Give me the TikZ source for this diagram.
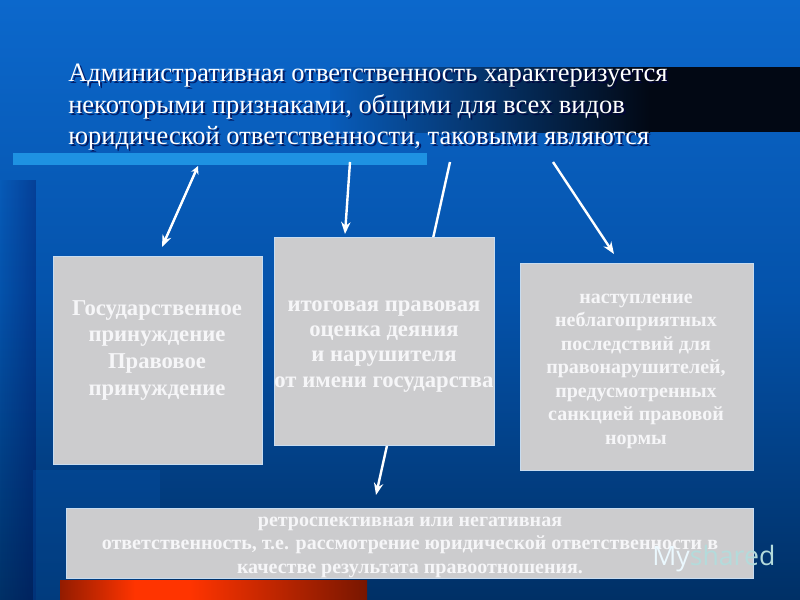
\documentclass[tikz,border=0pt]{standalone}
\usepackage{fontspec}
\setmainfont{Liberation Serif}
\newfontfamily\wmfont{Open Sans}
\usetikzlibrary{arrows.meta,fadings}
\definecolor{bgtop}{RGB}{12,104,204}
\definecolor{bgmid}{RGB}{4,82,170}
\definecolor{bgbot}{RGB}{0,48,102}
\definecolor{bandblue}{RGB}{8,92,186}
\definecolor{bandblack}{RGB}{2,8,20}
\definecolor{lightbar}{RGB}{30,146,226}
\definecolor{boxgray}{RGB}{204,204,206}
\definecolor{boxedge}{RGB}{200,220,240}
\definecolor{txtwhite}{RGB}{246,246,248}
\definecolor{redmid}{RGB}{255,52,0}
\definecolor{reddark}{RGB}{120,22,0}
\definecolor{wmcyan}{RGB}{170,225,225}
\tikzset{
  graybox/.style={fill=boxgray, draw=boxedge, line width=0.8pt, anchor=north west, inner sep=0pt},
  boxtext/.style={text=txtwhite, align=center, anchor=north, inner sep=0pt},
  arrowline/.style={draw=white, line width=1.8pt, -{Stealth[length=9pt,width=7pt]}},
  titletext/.style={align=left, anchor=north west, inner sep=0pt, font=\fontsize{19.9}{23.6}\selectfont}
}
\begin{document}
\begin{tikzpicture}[x=0.75pt,y=-0.75pt]
\useasboundingbox (0,0) rectangle (800,600);
% background
\shade[top color=bgtop, bottom color=bgmid] (0,0) rectangle (800,300);
\shade[top color=bgmid, bottom color=bgbot] (0,300) rectangle (800,600);
\fill[black!70!blue, opacity=0.3, path fading=west] (0,180) rectangle (36,600);
\fill[bgmid, opacity=0.35] (33,470) rectangle (160,600);
% title dark band
\shade[left color=bandblue, right color=bandblack] (330,67) rectangle (650,132);
\fill[bandblack] (650,67) rectangle (800,132);
% light bar
\fill[lightbar] (13,153) rectangle (427,165);
% title
\node[titletext, text=black!75!blue, opacity=0.7] at (70,66) {\vphantom{Б}Административная ответственность характеризуется\\ некоторыми признаками, общими для всех видов\\ юридической ответственности, таковыми являются};
\node[titletext, text=white] (title) at (68,64) {\vphantom{Б}Административная ответственность характеризуется\\ некоторыми признаками, общими для всех видов\\ юридической ответственности, таковыми являются};
% arrow anchors
\coordinate (s1) at (198,166);
\coordinate (e1) at (162,247);
\coordinate (s2) at (350,162);
\coordinate (e2) at (345,234);
\coordinate (s3) at (450,162);
\coordinate (e3) at (376,495);
\coordinate (s4) at (553,162);
\coordinate (e4) at (614,254);
% arrow 3 passes behind box 2
\draw[arrowline] (s3) -- (e3);
% red bar
\shade[left color=reddark!80!redmid, right color=redmid] (60,580) rectangle (135,600);
\fill[redmid] (135,580) rectangle (190,600);
\shade[left color=redmid, right color=reddark] (190,580) rectangle (367,600);
% boxes
\node[graybox, minimum width=209*0.75pt, minimum height=208*0.75pt] (b1) at (53,256) {};
\node[graybox, minimum width=220*0.75pt, minimum height=208*0.75pt] (b2) at (274,237) {};
\node[graybox, minimum width=233*0.75pt, minimum height=207*0.75pt] (b3) at (520,263) {};
\node[graybox, minimum width=687*0.75pt, minimum height=70*0.75pt] (b4) at (66,508) {};
% box texts
\node[boxtext, font=\bfseries\fontsize{17}{20}\selectfont] (t1) at (157,300) {\vphantom{Б}Государственное\\ принуждение\\ Правовое\\ принуждение};
\node[boxtext, font=\bfseries\fontsize{17}{19}\selectfont] (t2) at (384,296) {\vphantom{Б}итоговая правовая\\ оценка деяния\\ и нарушителя\\ от имени государства};
\node[boxtext, font=\bfseries\fontsize{15}{17.6}\selectfont] (t3) at (636,290) {\vphantom{Б}наступление\\ неблагоприятных\\ последствий для\\ правонарушителей,\\ предусмотренных\\ санкцией правовой\\ нормы};
\node[boxtext, font=\bfseries\fontsize{15}{17.6}\selectfont] (t4) at (410,513) {\vphantom{Б}ретроспективная или негативная\\ ответственность, т.е. рассмотрение юридической ответственности в\\ качестве результата правоотношения.};
% watermark
\node[anchor=base west, inner sep=0pt, font=\wmfont\fontsize{20}{20}\selectfont] (wm) at (652,565) {\textcolor{white!92!cyan}{My}\textcolor{wmcyan!70!boxgray}{shared}};
% arrows
\draw[arrowline, {Stealth[length=6pt,width=6pt]}-{Stealth[length=9pt,width=7pt]}] (s1) -- (e1);
\draw[arrowline] (s2) -- (e2);
\draw[arrowline] (s4) -- (e4);
\end{tikzpicture}
\end{document}
